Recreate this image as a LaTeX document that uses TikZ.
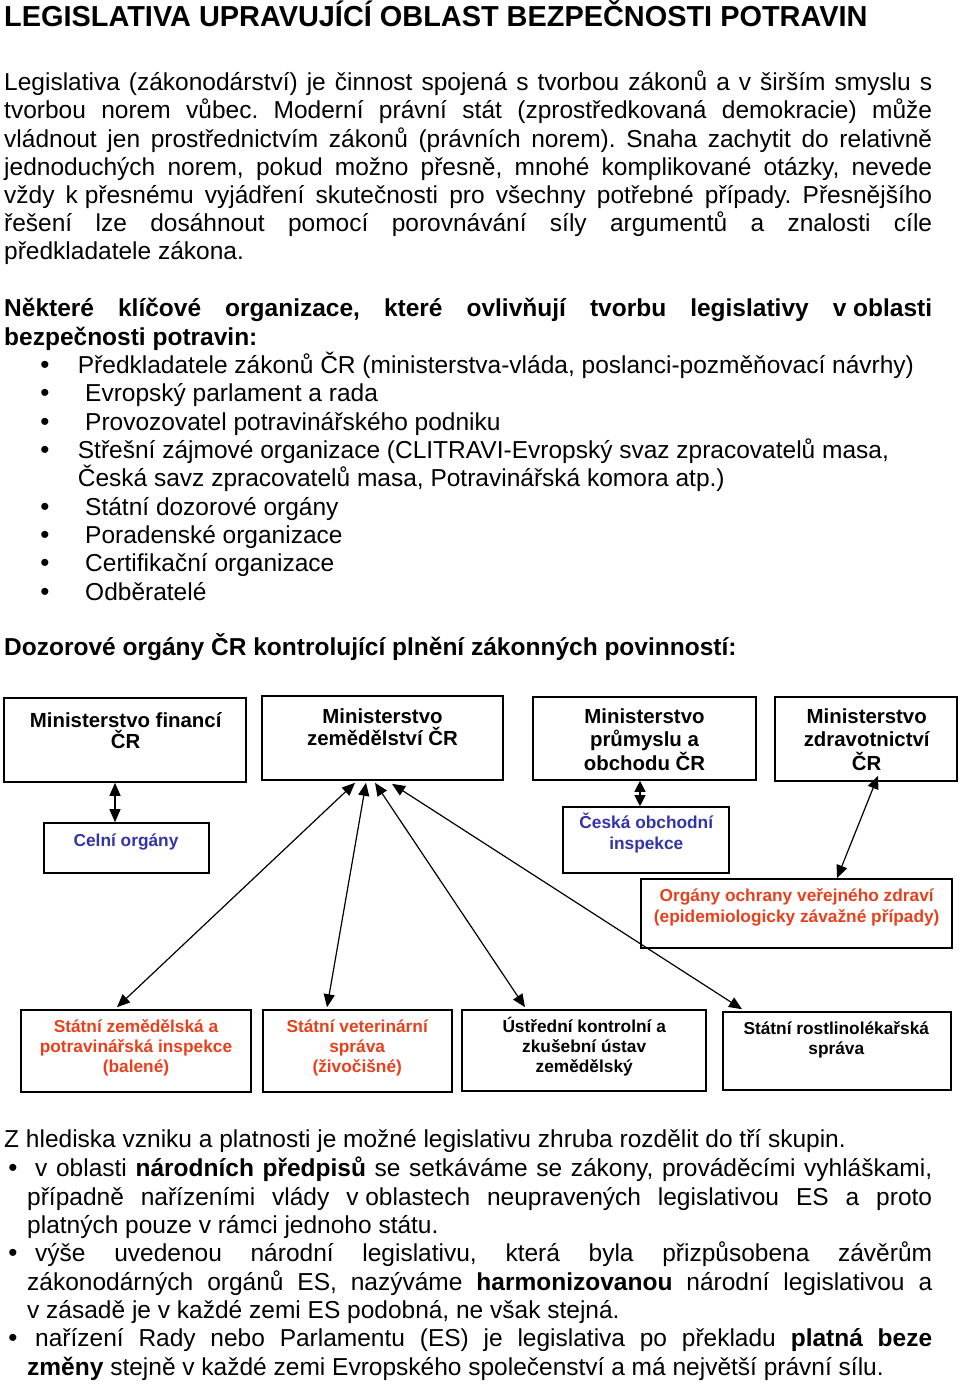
\documentclass[tikz,border=0pt]{standalone}
\usepackage{fontspec}
\setmainfont{Liberation Sans}
\usetikzlibrary{arrows.meta}
\definecolor{boxblue}{RGB}{51,51,170}
\definecolor{boxred}{RGB}{232,64,28}
\newcommand\fixsp{\kern.278em}
\frenchspacing
\begin{document}
\begin{tikzpicture}[x=1pt,y=-1pt,
 body/.style={anchor=base west, inner sep=0pt, font=\fontsize{24.5}{28}\selectfont},
 bodyb/.style={anchor=base west, inner sep=0pt, font=\fontsize{24.5}{28}\selectfont\bfseries},
 titlef/.style={anchor=base west, inner sep=0pt, font=\fontsize{28.9}{34}\selectfont\bfseries},
 bul/.style={anchor=base, inner sep=0pt, font=\fontsize{26}{28}\selectfont},
 box/.style={draw, line width=1.6pt, inner sep=0pt, anchor=center},
 mt/.style={anchor=base, inner sep=0pt, font=\fontsize{20.4}{24}\selectfont\bfseries},
 st/.style={anchor=base, inner sep=0pt, font=\fontsize{17.3}{21}\selectfont\bfseries},
 link/.style={line width=1.2pt, {Triangle[length=13pt,width=11pt]}-{Triangle[length=13pt,width=11pt]}},
 dmd/.style={line width=1.2pt, {Triangle[length=11pt,width=11pt]}-{Triangle[length=11pt,width=11pt]}},
]
\useasboundingbox (0,0) rectangle (960,1385);
\fill[white] (0,0) rectangle (960,1385);

% title
\node[titlef] (title) at (4,26.7) {LEGISLATIVA UPRAVUJÍCÍ OBLAST BEZPEČNOSTI POTRAVIN};

% paragraph
\node[body] (p1) at (4,90.7) {\makebox[928pt][s]{Legislativa (zákonodárství) je činnost spojená s tvorbou zákonů a v širším smyslu s}};
\node[body] (p2) at (4,118.9) {\makebox[928pt][s]{tvorbou norem vůbec. Moderní právní stát (zprostředkovaná demokracie) může}};
\node[body] (p3) at (4,147.1) {\makebox[928pt][s]{vládnout jen prostřednictvím zákonů (právních norem). Snaha zachytit do relativně}};
\node[body] (p4) at (4,175.3) {\makebox[928pt][s]{jednoduchých norem, pokud možno přesně, mnohé komplikované otázky, nevede}};
\node[body] (p5) at (4,203.5) {\makebox[928pt][s]{vždy k\fixsp přesnému vyjádření skutečnosti pro všechny potřebné případy. Přesnějšího}};
\node[body] (p6) at (4,231.7) {\makebox[928pt][s]{řešení lze dosáhnout pomocí porovnávání síly argumentů a znalosti cíle}};
\node[body] (p7) at (4,259.9) {předkladatele zákona.};

% organisations
\node[bodyb] (h1) at (4,316.7) {\makebox[928pt][s]{Některé klíčové organizace, které ovlivňují tvorbu legislativy v\fixsp oblasti}};
\node[bodyb] (h2) at (4,345) {bezpečnosti potravin:};

\node[bul] (b1) at (45,373.3) {•};
\node[bul] (b2) at (45,401.7) {•};
\node[bul] (b3) at (45,430) {•};
\node[bul] (b4) at (45,458.3) {•};
\node[bul] (b5) at (45,515) {•};
\node[bul] (b6) at (45,543.3) {•};
\node[bul] (b7) at (45,571.7) {•};
\node[bul] (b8) at (45,600) {•};
\node[body] (i1) at (77.7,373.3) {Předkladatele zákonů ČR (ministerstva-vláda, poslanci-pozměňovací návrhy)};
\node[body] (i2) at (85,401.7) {Evropský parlament a rada};
\node[body] (i3) at (85,430) {Provozovatel potravinářského podniku};
\node[body] (i4) at (77.7,458.3) {Střešní zájmové organizace (CLITRAVI-Evropský svaz zpracovatelů masa,};
\node[body] (i4b) at (77.7,486.7) {Česká savz zpracovatelů masa, Potravinářská komora atp.)};
\node[body] (i5) at (85,515) {Státní dozorové orgány};
\node[body] (i6) at (85,543.3) {Poradenské organizace};
\node[body] (i7) at (85,571.7) {Certifikační organizace};
\node[body] (i8) at (85,600) {Odběratelé};

\node[bodyb] (h3) at (4,655) {Dozorové orgány ČR kontrolující plnění zákonných povinností:};

% diagram boxes
\node[box, minimum width=242, minimum height=84] (mf) at (125,740) {};
\node[box, minimum width=241, minimum height=84] (mz) at (382.5,738) {};
\node[box, minimum width=223, minimum height=83] (mp) at (644.5,738.5) {};
\node[box, minimum width=182, minimum height=84] (mzd) at (866,739) {};
\node[box, minimum width=165, minimum height=50] (celni) at (126.5,848) {};
\node[box, minimum width=166, minimum height=66] (coi) at (646,840) {};
\node[box, minimum width=311, minimum height=69] (ochr) at (796.5,913.5) {};
\node[box, minimum width=230, minimum height=82] (szpi) at (136,1051) {};
\node[box, minimum width=189, minimum height=82] (svs) at (357.5,1051) {};
\node[box, minimum width=244, minimum height=81] (ukzuz) at (584,1050.5) {};
\node[box, minimum width=228, minimum height=78] (srs) at (837,1051) {};

% box texts
\node[mt] (mf1) at (125.7,727.3) {Ministerstvo financí};
\node[mt] (mf2) at (125.7,748.3) {ČR};
\node[mt] (mz1) at (382.5,723.3) {Ministerstvo};
\node[mt] (mz2) at (382.5,745) {zemědělství ČR};
\node[mt] (mp1) at (644.5,723.3) {Ministerstvo};
\node[mt] (mp2) at (644.5,746.7) {průmyslu a};
\node[mt] (mp3) at (644.5,770) {obchodu ČR};
\node[mt] (mzd1) at (866.7,723.3) {Ministerstvo};
\node[mt] (mzd2) at (866.7,746.7) {zdravotnictví};
\node[mt] (mzd3) at (866.7,770) {ČR};
\node[st, text=boxblue] (ce1) at (126,846) {Celní orgány};
\node[st, text=boxblue] (co1) at (646.3,828.3) {Česká obchodní};
\node[st, text=boxblue] (co2) at (646.3,849.3) {inspekce};
\node[st, text=boxred] (oc1) at (796.7,901.7) {Orgány ochrany veřejného zdraví};
\node[st, text=boxred] (oc2) at (796.7,922.3) {(epidemiologicky závažné případy)};
\node[st, text=boxred] (sz1) at (136,1032.3) {Státní zemědělská a};
\node[st, text=boxred] (sz2) at (136,1052.7) {potravinářská inspekce};
\node[st, text=boxred] (sz3) at (136,1072.7) {(balené)};
\node[st, text=boxred] (sv1) at (357.2,1032.3) {Státní veterinární};
\node[st, text=boxred] (sv2) at (357.2,1052.7) {správa};
\node[st, text=boxred] (sv3) at (357.2,1072.7) {(živočišné)};
\node[st] (uk1) at (584.2,1032.3) {Ústřední kontrolní a};
\node[st] (uk2) at (584.2,1052.7) {zkušební ústav};
\node[st] (uk3) at (584.2,1072.7) {zemědělský};
\node[st] (sr1) at (836.3,1034.3) {Státní rostlinolékařská};
\node[st] (sr2) at (836.3,1054.3) {správa};

% connectors
\draw[link] ([xshift=-10pt]mf.south) -- ([xshift=-11.5pt]celni.north);
\draw[dmd] ([xshift=-4.5pt]mp.south) -- ([xshift=-6pt]coi.north);
\draw[link] ([xshift=12pt,yshift=6pt]mzd.south) -- ([xshift=40.5pt]ochr.north);
\draw[link] ([xshift=-27.5pt,yshift=-2pt]mz.south) -- ([xshift=-19pt,yshift=2pt]szpi.north);
\draw[link] ([xshift=-16.5pt,yshift=-2pt]mz.south) -- ([xshift=-30.5pt,yshift=2pt]svs.north);
\draw[link] ([xshift=-7.5pt,yshift=-2pt]mz.south) -- ([xshift=-59pt,yshift=2pt]ukzuz.north);
\draw[link] ([xshift=9.5pt,yshift=-3pt]mz.south) -- ([xshift=-95pt,yshift=2pt]srs.north);

% bottom text
\node[body] (q1) at (4,1147.7) {Z hlediska vzniku a platnosti je možné legislativu zhruba rozdělit do tří skupin.};
\node[bul] (c1) at (13,1176.7) {•};
\node[body] (q2) at (35,1176.7) {\makebox[897pt][s]{v oblasti \textbf{národních předpisů} se setkáváme se zákony, prováděcími vyhláškami,}};
\node[body] (q3) at (27,1205) {\makebox[905pt][s]{případně nařízeními vlády v\fixsp oblastech neupravených legislativou ES a proto}};
\node[body] (q4) at (27,1233.3) {platných pouze v rámci jednoho státu.};
\node[bul] (c2) at (13,1261.7) {•};
\node[body] (q5) at (35,1261.7) {\makebox[897pt][s]{výše uvedenou národní legislativu, která byla přizpůsobena závěrům}};
\node[body] (q6) at (27,1290) {\makebox[905pt][s]{zákonodárných orgánů ES, nazýváme \textbf{harmonizovanou} národní legislativou a}};
\node[body] (q7) at (27,1318.3) {v\fixsp zásadě je v každé zemi ES podobná, ne však stejná.};
\node[bul] (c3) at (13,1346.7) {•};
\node[body] (q8) at (35,1346.7) {\makebox[897pt][s]{nařízení Rady nebo Parlamentu (ES) je legislativa po překladu \textbf{platná beze}}};
\node[body] (q9) at (27,1375) {\textbf{změny} stejně v každé zemi Evropského společenství a má největší právní sílu.};
\end{tikzpicture}
\end{document}
